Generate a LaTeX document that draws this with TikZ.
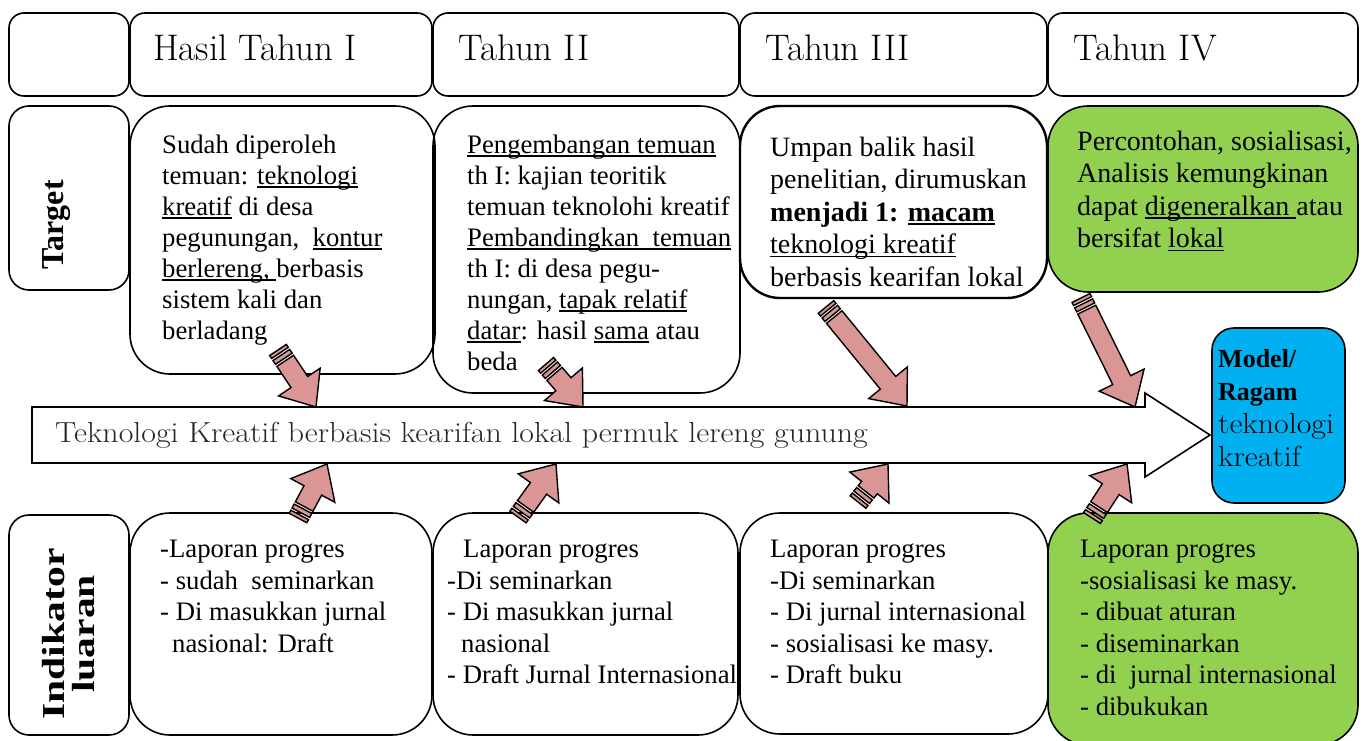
\documentclass[tikz,border=0pt]{standalone}
\usepackage{fontspec}
\usepackage{graphicx}
\setmainfont{Liberation Serif}
\usetikzlibrary{positioning, calc}
\definecolor{arwFill}{RGB}{217,150,148}
\definecolor{grnFill}{RGB}{146,208,80}
\definecolor{bluFill}{RGB}{0,176,240}
\newcommand{\lmr}{\fontfamily{lmr}\selectfont}
\newcommand{\undl}[1]{\setbox0\hbox{#1}\rlap{\rule[-3.5pt]{\wd0}{1.6pt}}\box0\relax}
\newcommand{\wide}[1]{\scalebox{1.1}[1]{#1}}
\tikzset{
  HB/.style={draw, line width=1.6pt, rounded corners=15pt, inner sep=0pt},
  CB/.style={draw, line width=1.6pt, rounded corners=40pt, inner sep=0pt},
  LB/.style={draw, line width=1.6pt, rounded corners=20pt, inner sep=0pt},
  HT/.style={font=\lmr\fontsize{37}{40}\selectfont, anchor=base west, inner sep=0pt},
  TX/.style={font=\fontsize{26.7}{31}\selectfont, align=left, anchor=north west, inner sep=0pt},
  TXL/.style={TX, font=\fontsize{28}{32.5}\selectfont},
  TXB/.style={TX, font=\fontsize{26.7}{31.5}\selectfont},
  STR/.style={fill=arwFill, draw=black, line width=1.4pt, line join=miter},
  BIG/.style={draw, fill=white, line width=1.6pt, line join=miter},
}
% striped arrow from tail #1 to tip #2
\newcommand{\striparrow}[2]{%
  \filldraw[STR] ($(#1)!13pt!(#2)!10pt!90:(#2)$) -- ($(#2)!30pt!(#1)!10pt!-90:(#1)$)
    -- ($(#2)!30pt!(#1)!25pt!-90:(#1)$) -- (#2) -- ($(#2)!30pt!(#1)!25pt!90:(#1)$)
    -- ($(#2)!30pt!(#1)!10pt!90:(#1)$) -- ($(#1)!13pt!(#2)!10pt!-90:(#2)$) -- cycle;
  \filldraw[STR] ($(#1)!0pt!(#2)!10pt!90:(#2)$) -- ($(#1)!3.5pt!(#2)!10pt!90:(#2)$)
    -- ($(#1)!3.5pt!(#2)!10pt!-90:(#2)$) -- ($(#1)!0pt!(#2)!10pt!-90:(#2)$) -- cycle;
  \filldraw[STR] ($(#1)!6pt!(#2)!10pt!90:(#2)$) -- ($(#1)!10.5pt!(#2)!10pt!90:(#2)$)
    -- ($(#1)!10.5pt!(#2)!10pt!-90:(#2)$) -- ($(#1)!6pt!(#2)!10pt!-90:(#2)$) -- cycle;}

\begin{document}
\begin{tikzpicture}[x=1pt, y=1pt, yscale=-1, line join=round]
\useasboundingbox (0,0) rectangle (1363,741);

%% header row
\node[HB, minimum width=120pt, minimum height=83pt] (h0) at (69,54.5) {};
\node[HB, minimum width=302pt, minimum height=83pt] (h1) at (281,54.5) {};
\node[HB, minimum width=306pt, minimum height=83pt] (h2) at (586,54.5) {};
\node[HB, minimum width=307pt, minimum height=83pt] (h3) at (893.5,54.5) {};
\node[HB, minimum width=310pt, minimum height=83pt] (h4) at (1203,54.5) {};
\node[HT] (h1txt) at (153,61) {Hasil Tahun I};
\node[HT] (h2txt) at (458,61) {Tahun II};
\node[HT] (h3txt) at (765,61) {Tahun III};
\node[HT] (h4txt) at (1073,61) {Tahun IV};

%% target row
\node[LB, minimum width=120pt, minimum height=184pt] (tgt) at (69,198) {};
\node[rotate=90, inner sep=0pt, font=\bfseries\fontsize{32}{32}\selectfont] (tgttxt) at (57,225) {Target};
\node[CB, minimum width=305pt, minimum height=268pt] (t1) at (282.5,240) {};
\node[CB, minimum width=307pt, minimum height=287pt] (t2) at (586.5,249.5) {};
\node[CB, line width=2.4pt, minimum width=307pt, minimum height=192pt] (t3) at (893.5,202) {};
\node[CB, fill=grnFill, minimum width=310pt, minimum height=186pt] (t4) at (1203,199) {};

\node[TX] (t1txt) at (162,134.5) {Sudah diperoleh\\temuan: \undl{teknologi}\\\undl{kreatif} di desa\\pegunungan,\ \ \undl{kontur}\\\undl{berlereng,\ }berbasis\\sistem kali dan\\berladang};
\node[TX] (t2txt) at (467,134.5) {\undl{Pengembangan temuan}\\th I: kajian teoritik\\temuan teknolohi kreatif\\\undl{Pembandingkan\ \ temuan}\\th I: di desa pegu-\\nungan, \undl{tapak relatif}\\\undl{datar}: hasil \undl{sama} atau\\beda};
\node[TXL] (t3txt) at (770,136.5) {Umpan balik hasil\\penelitian, dirumuskan\\\textbf{menjadi 1: \undl{macam}}\\\undl{teknologi kreatif}\\berbasis kearifan lokal};
\node[TXL] (t4txt) at (1077,130.5) {Percontohan, sosialisasi,\\Analisis kemungkinan\\dapat \undl{digeneralkan\ }atau\\bersifat \undl{lokal}};

%% indikator row
\node[LB, minimum width=120pt, minimum height=220pt] (ind) at (69,625) {};
\node[rotate=90, align=center, inner sep=0pt, font=\bfseries\fontsize{32}{30}\selectfont] (indtxt) at (69,634)
  {\scalebox{1.3}[1]{Indikator}\\\scalebox{1.3}[1]{luaran}};
\node[CB, minimum width=302pt, minimum height=222pt] (b1) at (281,624) {};
\node[CB, minimum width=305pt, minimum height=222pt] (b2) at (585.5,624) {};
\node[CB, minimum width=308pt, minimum height=221pt] (b3) at (894,623.5) {};
\node[CB, fill=grnFill, minimum width=310pt, minimum height=232pt] (b4) at (1203,629) {};

\node[TXB] (b1txt) at (160,540) {-Laporan progres\\- sudah\ \ seminarkan\\- Di masukkan jurnal\\\hspace*{12pt}nasional: Draft};
\node[TXB] (b2txt) at (447,540) {\hspace*{16pt}Laporan progres\\-Di seminarkan\\- Di masukkan jurnal\\\hspace*{14pt}nasional\\- Draft Jurnal Internasional};
\node[TXB] (b3txt) at (770,540) {Laporan progres\\-Di seminarkan\\- Di jurnal internasional\\- sosialisasi ke masy.\\- Draft buku};
\node[TXB] (b4txt) at (1080,540) {Laporan progres\\-sosialisasi ke masy.\\- dibuat aturan\\- diseminarkan\\- di\ \ jurnal internasional\\- dibukukan};

%% main flow arrow
\draw[BIG] (32,407) -- (1145,407) -- (1145,393) -- (1210,435) -- (1145,477) -- (1145,463) -- (32,463) -- cycle;
\node[anchor=base west, inner sep=0pt, text=black!85, font=\lmr\fontsize{29}{32}\selectfont] (flowtxt) at (55,442)
  {\wide{Teknologi Kreatif berbasis kearifan lokal permuk lereng gunung}};

%% result box
\node[LB, fill=bluFill, rounded corners=22pt, minimum width=133pt, minimum height=175pt] (model) at (1278.5,415.5) {};
\node[anchor=north west, align=left, inner sep=0pt, font=\fontsize{26}{33}\selectfont] (modeltxt) at (1218,349)
  {\textbf{Model/}\\\textbf{Ragam}\\{\lmr\fontsize{29}{33}\selectfont\wide{teknologi}}\\{\lmr\fontsize{29}{33}\selectfont\wide{kreatif}}};

%% striped arrows
\coordinate (a1s) at (278,350);  \coordinate (a1e) at (316,407);
\coordinate (a2s) at (546,364);  \coordinate (a2e) at (583,407);
\coordinate (a3s) at (826,307);  \coordinate (a3e) at (907,406);
\coordinate (a4s) at (1081,298); \coordinate (a4e) at (1135,407);
\coordinate (c1s) at (298,518);  \coordinate (c1e) at (327,464);
\coordinate (c2s) at (518,517);  \coordinate (c2e) at (556,464);
\coordinate (c3s) at (858,502);  \coordinate (c3e) at (888,464);
\coordinate (c4s) at (1092,518); \coordinate (c4e) at (1127,464);
\striparrow{a1s}{a1e}
\striparrow{a2s}{a2e}
\striparrow{a3s}{a3e}
\striparrow{a4s}{a4e}
\striparrow{c1s}{c1e}
\striparrow{c2s}{c2e}
\striparrow{c3s}{c3e}
\striparrow{c4s}{c4e}

\end{tikzpicture}
\end{document}
